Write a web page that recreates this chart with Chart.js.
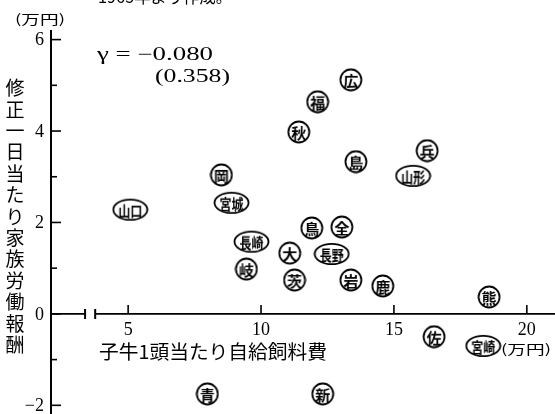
<!DOCTYPE html>
<html><head><meta charset="utf-8">
<script src="https://cdn.jsdelivr.net/npm/chart.js@4/dist/chart.umd.min.js"></script>
<style>html,body{margin:0;padding:0;background:#fff;}#wrap{width:555px;height:414px;position:relative;}</style>
</head><body><div id="wrap"><canvas id="c" width="555" height="414"></canvas></div>
<script>
// ---- data ----
const labels = ['山口','岡','宮城','秋','福','広','島','兵','山形','長崎','岐','鳥','全','大','長野','茨','岩','鹿','熊','佐','宮崎','新','青'];
const feedCost = [5.08,8.51,8.89,11.42,12.13,13.38,13.57,16.25,15.72,9.64,9.45,11.91,13.04,11.08,12.66,11.26,13.38,14.58,18.58,16.51,18.36,12.32,7.98];
const laborReward = [2.28,3.04,2.43,3.98,4.64,5.12,3.33,3.57,3.02,1.58,0.98,1.88,1.90,1.33,1.31,0.74,0.74,0.61,0.37,-0.50,-0.70,-1.75,-1.75];
const xTicks = [5,10,15,20];
const yTicks = [6,4,2,0,-2];
const yMinorTicks = [5,3,1,-1];
const xRange = [2.06,21.06];
const yRange = [-2.19,6.21];
const xBreak = [3.38,3.76];
const yTitle = '修正一日当たり家族労働報酬';
const xTitle = '子牛1頭当たり自給飼料費';
const unitText = '(万円)';
const rText = 'γ = −0.080';
const pText = '(0.358)';
const topNote = '1965年より作成。';

const JP = '"Noto Sans CJK JP"';
const SERIF = '"Liberation Serif"';

function makeStamp(t){
  const two = t.length > 1;
  const w = two ? 37 : 24, h = 24;
  const cv = document.createElement('canvas');
  cv.width = w; cv.height = h;
  const g = cv.getContext('2d');
  g.strokeStyle = '#000'; g.lineWidth = 1.8;
  g.beginPath();
  if (two) g.ellipse(w/2, h/2, w/2-1.5, h/2-1.8, 0, 0, Math.PI*2);
  else g.arc(w/2, h/2, h/2-1.5, 0, Math.PI*2);
  g.stroke();
  g.fillStyle = '#000';
  g.textAlign = 'center'; g.textBaseline = 'middle';
  if (two) {
    g.font = 'bold 15px ' + JP;
    g.save(); g.translate(w/2, h/2+1); g.scale(0.8,1); g.fillText(t, 0, 0); g.restore();
  } else {
    g.font = 'bold 15px ' + JP;
    g.fillText(t, w/2, h/2+1);
  }
  return cv;
}
const stamps = labels.map(makeStamp);

function fitText(ctx, t, x, y, w){
  const m = ctx.measureText(t).width;
  ctx.save(); ctx.translate(x, y); ctx.scale(w/m, 1); ctx.fillText(t, 0, 0); ctx.restore();
}

const axesPlugin = {
  id: 'handAxes',
  afterDraw(chart){
    const {ctx, chartArea:a, scales:{x, y}} = chart;
    const y0 = y.getPixelForValue(0);
    const xl = a.left + 1;
    ctx.save();
    ctx.strokeStyle = '#000'; ctx.fillStyle = '#000';
    ctx.lineWidth = 2;
    // y axis
    ctx.beginPath(); ctx.moveTo(xl, a.top); ctx.lineTo(xl, a.bottom); ctx.stroke();
    // x axis with break
    const b1 = x.getPixelForValue(xBreak[0]), b2 = x.getPixelForValue(xBreak[1]);
    ctx.lineWidth = 1.8;
    ctx.beginPath(); ctx.moveTo(xl, y0); ctx.lineTo(b1, y0);
    ctx.moveTo(b2, y0); ctx.lineTo(a.right, y0); ctx.stroke();
    ctx.lineWidth = 2;
    ctx.beginPath(); ctx.moveTo(b1, y0-5); ctx.lineTo(b1, y0+5);
    ctx.moveTo(b2, y0-5); ctx.lineTo(b2, y0+5); ctx.stroke();
    // x ticks
    ctx.lineWidth = 1.6;
    ctx.font = '18px ' + SERIF;
    ctx.textAlign = 'center'; ctx.textBaseline = 'middle';
    xTicks.forEach(v => {
      const px = x.getPixelForValue(v);
      ctx.beginPath(); ctx.moveTo(px, y0); ctx.lineTo(px, y0-9); ctx.stroke();
      ctx.fillText(String(v), px, y0+16);
    });
    // y ticks
    ctx.textAlign = 'right';
    yTicks.forEach(v => {
      const py = y.getPixelForValue(v);
      ctx.beginPath(); ctx.moveTo(xl, py); ctx.lineTo(xl+10, py); ctx.stroke();
      ctx.fillText(v < 0 ? '−' + Math.abs(v) : String(v), xl-7, py+1);
    });
    yMinorTicks.forEach(v => {
      const py = y.getPixelForValue(v);
      ctx.beginPath(); ctx.moveTo(xl, py); ctx.lineTo(xl+6, py); ctx.stroke();
    });
    // y title vertical
    ctx.textAlign = 'center';
    ctx.font = '19px ' + JP;
    [...yTitle].forEach((ch, i) => ctx.fillText(ch, 15, 88 + i*21.4));
    // units
    ctx.textAlign = 'left';
    ctx.font = '13px ' + JP;
    fitText(ctx, unitText, 15, 19, 50);
    fitText(ctx, unitText, 501, 349, 50);
    // x title
    ctx.font = '19px ' + JP;
    fitText(ctx, xTitle, 99, 352, 228);
    // r text
    ctx.font = '18px ' + SERIF;
    fitText(ctx, rText, 97, 55, 116);
    fitText(ctx, pText, 155, 77, 75);
    // top note (cut)
    ctx.font = '17px ' + JP;
    ctx.textBaseline = 'alphabetic';
    fitText(ctx, topNote, 98, 3, 134);
    ctx.restore();
  }
};

new Chart(document.getElementById('c'), {
  type: 'scatter',
  data: { datasets: [{
    data: feedCost.map((v,i) => ({x: v, y: laborReward[i]})),
    pointStyle: stamps,
    pointRadius: 11,
    clip: false
  }]},
  options: {
    responsive: false,
    animation: false,
    devicePixelRatio: 1,
    layout: { autoPadding: false, padding: {top: 30, left: 50, right: 0, bottom: 0} },
    plugins: { legend: {display: false}, tooltip: {enabled: false} },
    scales: {
      x: { type: 'linear', min: xRange[0], max: xRange[1], display: false },
      y: { type: 'linear', min: yRange[0], max: yRange[1], display: false }
    }
  },
  plugins: [axesPlugin]
});
</script></body></html>
